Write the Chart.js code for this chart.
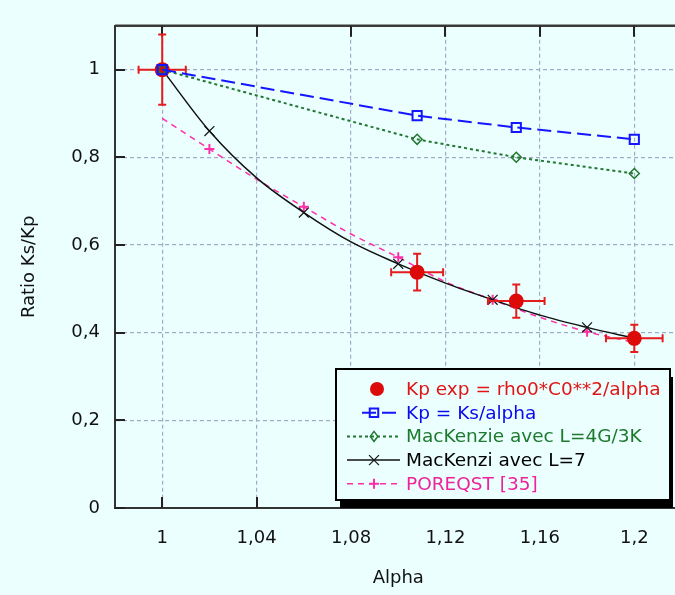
<!DOCTYPE html>
<html><head><meta charset="utf-8">
<script src="https://cdn.jsdelivr.net/npm/chart.js@4/dist/chart.umd.min.js"></script>
<style>html,body{margin:0;padding:0;background:#ebffff;overflow:hidden;width:675px;height:595px}canvas{display:block}</style>
</head><body><canvas id="c" width="690" height="595"></canvas>
<script>
const xTicks=[1,1.04,1.08,1.12,1.16,1.2];
const yTicks=[0,0.2,0.4,0.6,0.8,1];
const alphaExp=[1,1.108,1.15,1.2];
const kpExp=[1,0.538,0.472,0.387];
const kpExpErrY=[0.08,0.042,0.038,0.031];
const alphaErrX=[0.01,0.011,0.012,0.012];
const kpKsAlpha=[1,0.895,0.868,0.841];
const mackenzie43=[1,0.841,0.800,0.763];
const alphaFine=[1,1.02,1.04,1.06,1.08,1.10,1.12,1.14,1.16,1.18,1.20];
const mackenzi7=[1,0.860,0.753,0.674,0.607,0.557,0.513,0.475,0.440,0.412,0.387];
const poreqst=[0.889,0.819,0.750,0.687,0.625,0.572,0.516,0.475,0.435,0.402,0.378];
const markedAlpha=[1.02,1.06,1.10,1.14,1.18];
const seriesNames=['Kp exp = rho0*C0**2/alpha','Kp = Ks/alpha','MacKenzie avec L=4G/3K','MacKenzi avec L=7','POREQST [35]'];

const BG='#ebffff';
const FONT='"DejaVu Sans", sans-serif';
const pts=(xs,ys)=>xs.map((x,i)=>({x:x,y:ys[i]}));
const marked=ctx=>{const d=ctx.raw; return d && markedAlpha.some(m=>Math.abs(m-d.x)<1e-6);};
const fmt=v=>String(Math.round(v*100)/100).replace('.',',');

const colors={red:'#dd0a0a',blue:'#1515ff',green:'#21772f',black:'#111111',pink:'#ff2fa6'};
const textColors=['#e01515','#0a0aee','#1d7a2d','#000000','#ee2299'];

function drawMarker(ctx,style,x,y,r,fill,stroke,lw){
  ctx.save();ctx.setLineDash([]);ctx.lineWidth=lw;ctx.strokeStyle=stroke;ctx.fillStyle=fill;ctx.beginPath();
  if(style==='circle'){ctx.arc(x,y,r,0,Math.PI*2);ctx.fill();}
  else if(style==='rect'){const s=r*Math.SQRT1_2;ctx.rect(x-s,y-s,2*s,2*s);ctx.fill();ctx.stroke();}
  else if(style==='rectRot'){ctx.moveTo(x,y-r);ctx.lineTo(x+r*0.75,y);ctx.lineTo(x,y+r);ctx.lineTo(x-r*0.75,y);ctx.closePath();ctx.fill();ctx.stroke();}
  else if(style==='crossRot'){const s=r*Math.SQRT1_2;ctx.moveTo(x-s,y-s);ctx.lineTo(x+s,y+s);ctx.moveTo(x+s,y-s);ctx.lineTo(x-s,y+s);ctx.stroke();}
  else if(style==='cross'){ctx.moveTo(x-r,y);ctx.lineTo(x+r,y);ctx.moveTo(x,y-r);ctx.lineTo(x,y+r);ctx.stroke();}
  ctx.restore();
}

const errorBars={id:'errorBars',
  beforeDatasetDraw(chart,args){
    if(args.index!==0)return;
    const {ctx,scales:{x,y}}=chart;
    ctx.save();ctx.strokeStyle='#e51c1c';ctx.lineWidth=2;ctx.setLineDash([]);
    alphaExp.forEach((a,i)=>{
      const px=x.getPixelForValue(a),py=y.getPixelForValue(kpExp[i]);
      const y1=y.getPixelForValue(kpExp[i]+kpExpErrY[i]),y2=y.getPixelForValue(kpExp[i]-kpExpErrY[i]);
      const x1=x.getPixelForValue(a-alphaErrX[i]),x2=x.getPixelForValue(a+alphaErrX[i]);
      const c=4;
      ctx.beginPath();
      ctx.moveTo(px,y1);ctx.lineTo(px,y2);
      ctx.moveTo(x1,py);ctx.lineTo(x2,py);
      ctx.moveTo(px-c,y1);ctx.lineTo(px+c,y1);
      ctx.moveTo(px-c,y2);ctx.lineTo(px+c,y2);
      ctx.moveTo(x1,py-c);ctx.lineTo(x1,py+c);
      ctx.moveTo(x2,py-c);ctx.lineTo(x2,py+c);
      ctx.stroke();
    });
    ctx.restore();
  }};

const frame={id:'frame',
  beforeDatasetsDraw(chart){
    const {ctx,chartArea:a,scales:{x,y}}=chart;
    ctx.save();ctx.setLineDash([]);
    ctx.strokeStyle='#3a3a3a';ctx.lineWidth=2.5;
    ctx.beginPath();ctx.moveTo(a.left,a.top);ctx.lineTo(a.right+10,a.top);ctx.stroke();
    ctx.strokeStyle='#222';ctx.lineWidth=2;ctx.beginPath();
    xTicks.forEach(v=>{const p=Math.round(x.getPixelForValue(v));
      ctx.moveTo(p,a.top);ctx.lineTo(p,a.top+11);
      ctx.moveTo(p,a.bottom);ctx.lineTo(p,a.bottom-11);});
    yTicks.forEach(v=>{const p=Math.round(y.getPixelForValue(v));
      ctx.moveTo(a.left,p);ctx.lineTo(a.left+10,p);});
    ctx.stroke();ctx.restore();
  }};

const legendBox={id:'legendBox',
  afterDraw(chart){
    const ctx=chart.ctx;
    const lx=336,ly=369,lw=334,lh=131;
    ctx.save();
    ctx.fillStyle='#000';ctx.fillRect(lx+4,ly+8,lw-1,lh);
    ctx.fillStyle=BG;ctx.fillRect(lx,ly,lw,lh);
    ctx.strokeStyle='#000';ctx.lineWidth=2;ctx.setLineDash([]);ctx.strokeRect(lx,ly,lw,lh);
    ctx.font='18.5px '+FONT;ctx.textBaseline='middle';ctx.textAlign='left';
    chart.data.datasets.forEach((ds,i)=>{
      const yy=389+i*23.7;
      if(ds.showLine){
        ctx.save();ctx.strokeStyle=ds.borderColor;ctx.lineWidth=ds.borderWidth;ctx.setLineDash(ds.borderDash||[]);
        ctx.beginPath();ctx.moveTo(i===1?362:347,yy);ctx.lineTo(400,yy);ctx.stroke();ctx.restore();
      }
      drawMarker(ctx,ds.pointStyle,i===0?377:374,yy,i===0?7:(ds.legendRadius||5),
        ds.pointBackgroundColor||ds.backgroundColor,ds.borderColor,ds.pointBorderWidth||1.5);
      ctx.fillStyle=textColors[i];
      ctx.fillText(ds.label,406,yy+1);
    });
    ctx.restore();
  }};

new Chart(document.getElementById('c'),{
  type:'scatter',
  data:{datasets:[
    {label:seriesNames[0],order:2,data:pts(alphaExp,kpExp),showLine:false,pointStyle:'circle',pointRadius:7.5,
     backgroundColor:colors.red,borderColor:colors.red,pointBackgroundColor:colors.red,pointBorderWidth:0},
    {label:seriesNames[1],order:0,data:pts(alphaExp,kpKsAlpha),showLine:true,borderColor:colors.blue,borderWidth:2,borderDash:[14,6],
     pointStyle:'rect',pointRadius:6.5,legendRadius:6,pointBorderWidth:2,pointBorderColor:colors.blue,pointBackgroundColor:'rgba(0,0,0,0)'},
    {label:seriesNames[2],order:1,data:pts(alphaExp,mackenzie43),showLine:true,borderColor:colors.green,borderWidth:2,borderDash:[3,3],
     pointStyle:'rectRot',pointRadius:5,legendRadius:5,pointBorderWidth:1.5,pointBorderColor:colors.green,pointBackgroundColor:'rgba(0,0,0,0)'},
    {label:seriesNames[3],order:3,data:pts(alphaFine,mackenzi7),showLine:true,borderColor:colors.black,borderWidth:1.5,
     cubicInterpolationMode:'monotone',pointStyle:'crossRot',pointRadius:c=>marked(c)?7:0,legendRadius:7,pointBorderWidth:1.2,
     pointBorderColor:colors.black,pointBackgroundColor:'rgba(0,0,0,0)'},
    {label:seriesNames[4],order:4,data:pts(alphaFine,poreqst),showLine:true,borderColor:colors.pink,borderWidth:1.5,borderDash:[6,5],
     cubicInterpolationMode:'monotone',pointStyle:'cross',pointRadius:c=>marked(c)?5:0,legendRadius:5,pointBorderWidth:2,
     pointBorderColor:colors.pink,pointBackgroundColor:'rgba(0,0,0,0)'}
  ]},
  options:{
    responsive:false,animation:false,devicePixelRatio:1,
    layout:{padding:{top:23,right:7,left:0,bottom:0}},
    plugins:{legend:{display:false},tooltip:{enabled:false}},
    elements:{point:{hoverRadius:0}},
    scales:{
      x:{type:'linear',min:0.98,max:1.22,
        afterBuildTicks:s=>{s.ticks=xTicks.map(v=>({value:v}));},
        afterFit:s=>{s.height=87;},
        ticks:{callback:v=>fmt(v),font:{family:FONT,size:18},color:'#111',padding:20,maxRotation:0,autoSkip:false},
        grid:{color:'#a3abc6',lineWidth:1.2,drawTicks:false},
        border:{display:true,color:'#333',width:2,dash:[4,3]},
        title:{display:true,text:'Alpha',font:{family:FONT,size:18},color:'#111',padding:{top:0,bottom:6}}},
      y:{type:'linear',min:0,max:1.1,
        afterBuildTicks:s=>{s.ticks=yTicks.map(v=>({value:v}));},
        afterFit:s=>{s.width=115;},
        ticks:{callback:v=>fmt(v),font:{family:FONT,size:18},color:'#111',padding:15,autoSkip:false},
        grid:{color:'#a3abc6',lineWidth:1.2,drawTicks:false},
        border:{display:true,color:'#333',width:2,dash:[4,3]},
        title:{display:true,text:'Ratio Ks/Kp',font:{family:FONT,size:18},color:'#111',padding:{top:19,bottom:0}}}
    }
  },
  plugins:[frame,errorBars,legendBox]
});
</script></body></html>
